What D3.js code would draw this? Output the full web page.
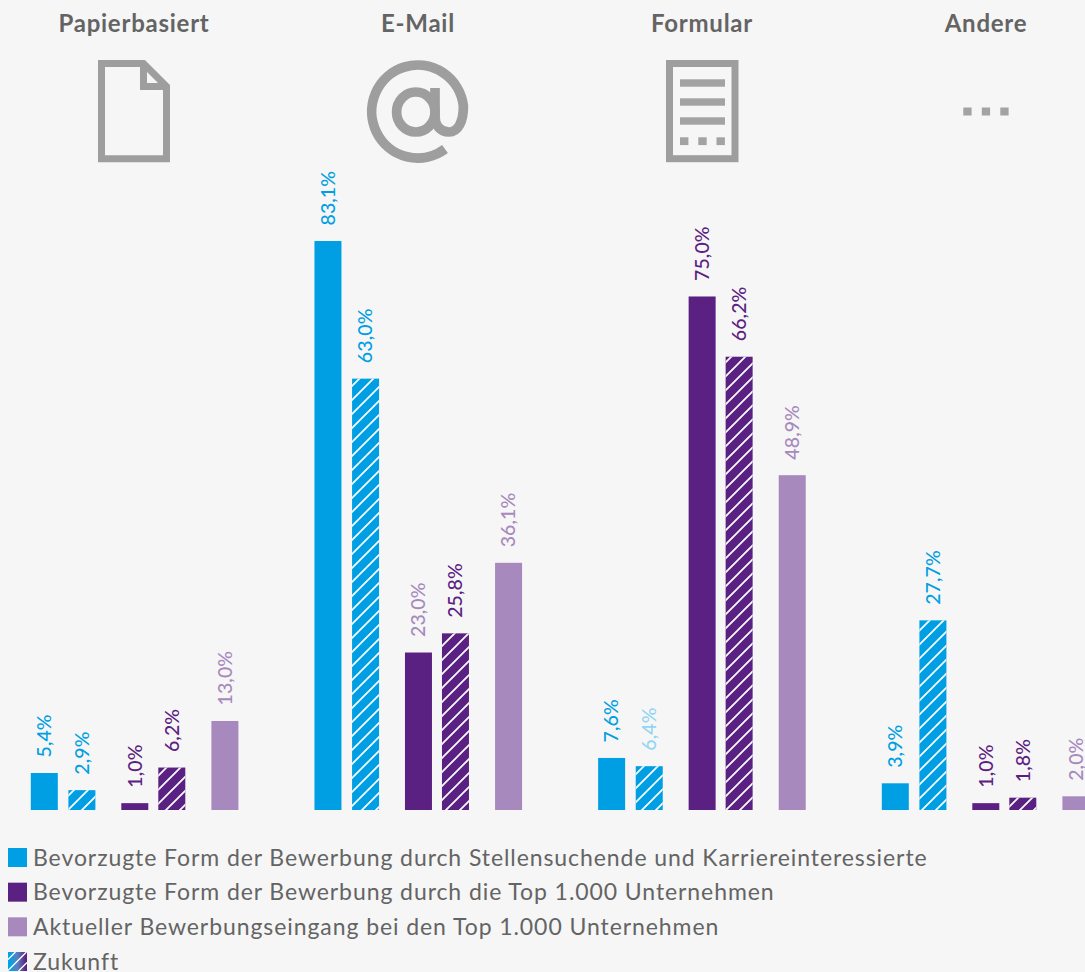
<!DOCTYPE html>
<html lang="de">
<head>
<meta charset="utf-8">
<script src="https://cdn.jsdelivr.net/npm/d3@7"></script>
<style>
html,body{margin:0;padding:0;background:#f6f6f6;overflow:hidden}
svg{display:block}
text{font-family:Lato,"Open Sans",sans-serif}
</style>
</head>
<body>
<div id="chart"></div>
<script>
const categories = ["Papierbasiert", "E-Mail", "Formular", "Andere"];
const seriesNames = ["seekersNow", "seekersFuture", "top1000Now", "top1000Future", "currentInbox"];
const seekersNow = [5.4, 83.1, 7.6, 3.9];
const seekersFuture = [2.9, 63.0, 6.4, 27.7];
const top1000Now = [1.0, 23.0, 75.0, 1.0];
const top1000Future = [6.2, 25.8, 66.2, 1.8];
const currentInbox = [13.0, 36.1, 48.9, 2.0];
const legendLabels = [
  "Bevorzugte Form der Bewerbung durch Stellensuchende und Karriereinteressierte",
  "Bevorzugte Form der Bewerbung durch die Top 1.000 Unternehmen",
  "Aktueller Bewerbungseingang bei den Top 1.000 Unternehmen",
  "Zukunft"
];
// [category, series] of the labels printed in a paler tint in the original
const paleLabels = [["Formular", "seekersFuture"], ["E-Mail", "top1000Now"]];

const W = 1085, H = 972;
const BLUE = "#009fe3", PURPLE = "#5b2182", LILAC = "#a789bd", GREY = "#9d9e9d", TEXT = "#646464";
const seriesValues = {seekersNow, seekersFuture, top1000Now, top1000Future, currentInbox};
const seriesColor = d3.scaleOrdinal(seriesNames, [BLUE, BLUE, PURPLE, PURPLE, LILAC]);
const paleColor = d3.scaleOrdinal([BLUE, PURPLE], ["#93d5f5", LILAC]);
const hatched = new Set(["seekersFuture", "top1000Future"]);

const y = d3.scaleLinear().domain([0, 100]).range([810, 125.3]);
const groupX = d3.scalePoint().domain(categories).range([30.8, 881.8]);
const barX = d3.scaleOrdinal(seriesNames, [0, 37.6, 90.5, 127.5, 180.6]);
const barW = 27;
const iconCenter = d3.scalePoint().domain(categories).range([134, 986]);

const svg = d3.select("#chart").append("svg").attr("width", W).attr("height", H).attr("viewBox", `0 0 ${W} ${H}`);
svg.append("rect").attr("width", W).attr("height", H).attr("fill", "#f6f6f6");

const defs = svg.append("defs");
const hatchStep = 14;
const hatchPattern = defs.append("pattern").attr("id", "hatchLines").attr("patternUnits", "userSpaceOnUse")
  .attr("width", hatchStep).attr("height", hatchStep).attr("patternTransform", "translate(10,0)");
hatchPattern.append("path")
  .attr("d", `M-1,${hatchStep + 1} L${hatchStep + 1},-1 M-1,1 L1,-1 M${hatchStep - 1},${hatchStep + 1} L${hatchStep + 1},${hatchStep - 1}`)
  .attr("stroke", "#fff").attr("stroke-width", 1.7).attr("fill", "none");
const grad = defs.append("linearGradient").attr("id", "futureGrad")
  .attr("x1", 0).attr("y1", 0).attr("x2", 1).attr("y2", 0);
grad.append("stop").attr("offset", "10%").attr("stop-color", "#00a3e6");
grad.append("stop").attr("offset", "50%").attr("stop-color", "#5a7fc0");
grad.append("stop").attr("offset", "95%").attr("stop-color", PURPLE);

// flat records built from the arrays
const marks = [];
categories.forEach((c, i) => seriesNames.forEach(s => marks.push({category: c, series: s, value: seriesValues[s][i]})));

// bars
const bars = svg.append("g");
bars.selectAll("rect.bar").data(marks).join("rect").attr("class", "bar")
  .attr("x", d => groupX(d.category) + barX(d.series))
  .attr("y", d => y(d.value))
  .attr("width", barW)
  .attr("height", d => y(0) - y(d.value))
  .attr("fill", d => seriesColor(d.series));
bars.selectAll("rect.hatch").data(marks.filter(d => hatched.has(d.series))).join("rect").attr("class", "hatch")
  .attr("x", d => groupX(d.category) + barX(d.series))
  .attr("y", d => y(d.value))
  .attr("width", barW)
  .attr("height", d => y(0) - y(d.value))
  .attr("fill", "url(#hatchLines)");

// value labels
const fmt = v => v.toFixed(1).replace(".", ",") + "%";
const isPale = d => paleLabels.some(p => p[0] === d.category && p[1] === d.series);
svg.append("g").selectAll("text").data(marks).join("text")
  .attr("transform", d => `translate(${groupX(d.category) + barX(d.series) + barW / 2 + 6.8},${y(d.value) - 15.5}) rotate(-90)`)
  .attr("font-size", 19.5)
  .attr("font-weight", 500)
  .attr("letter-spacing", 0.1)
  .attr("fill", d => isPale(d) ? paleColor(seriesColor(d.series)) : seriesColor(d.series))
  .text(d => fmt(d.value));

// headers
svg.append("g").selectAll("text").data(categories).join("text")
  .attr("x", d => iconCenter(d))
  .attr("y", 32)
  .attr("text-anchor", "middle")
  .attr("font-size", 24)
  .attr("font-weight", 700)
  .attr("letter-spacing", 0.75)
  .attr("fill", TEXT)
  .text(d => d);

// icons
const icons = svg.append("g").attr("fill", "none").attr("stroke", GREY).attr("stroke-width", 7);
icons.append("path").attr("d", "M101.5,63.5 H143.5 L166.5,86.5 V158.7 H101.5 Z");
icons.append("path").attr("d", "M143.5,63.5 V86.5 H166.5");
icons.append("path").attr("stroke-width", 9.7).attr("stroke-linecap", "butt")
  .attr("d", "M445,149 A46,46.5 0 1 1 463.4,106 C463.4,122 458,132 449,132 C440,132 435,125 435,116 V88");
icons.append("ellipse").attr("stroke-width", 9.7).attr("cx", 415.8).attr("cy", 112).attr("rx", 19.2).attr("ry", 20);
icons.append("rect").attr("x", 669.5).attr("y", 63.5).attr("width", 65.5).attr("height", 95.2);
const solid = svg.append("g").attr("fill", "#a2a3a2");
[79.3, 98.3, 117.3].forEach(t => solid.append("rect").attr("x", 680).attr("y", t).attr("width", 45).attr("height", 7.4));
[680, 698.3, 716.5].forEach(l => solid.append("rect").attr("x", l).attr("y", 137.3).attr("width", 8.4).attr("height", 7.8));
[963.3, 981.8, 1000.3].forEach(l => solid.append("rect").attr("x", l).attr("y", 107.5).attr("width", 8.3).attr("height", 8));

// legend
const legendY = d3.scalePoint().domain(legendLabels).range([848, 952]);
const legendFill = d3.scaleOrdinal(legendLabels, [BLUE, PURPLE, LILAC, "url(#futureGrad)"]);
const lg = svg.append("g").selectAll("g").data(legendLabels).join("g")
  .attr("transform", d => `translate(8,${legendY(d)})`);
lg.append("rect").attr("width", 19).attr("height", 19).attr("fill", d => legendFill(d));
lg.filter(d => d === "Zukunft").append("path")
  .attr("d", "M0,7.5 L7.5,0 M0,18.5 L18.5,0 M10.5,19 L19,10.5")
  .attr("stroke", "#fff").attr("stroke-width", 1.3).attr("fill", "none");
lg.append("text").attr("x", 25).attr("y", 17.5)
  .attr("font-size", 23)
  .attr("letter-spacing", 0.92)
  .attr("fill", TEXT)
  .text(d => d);
</script>
</body>
</html>
